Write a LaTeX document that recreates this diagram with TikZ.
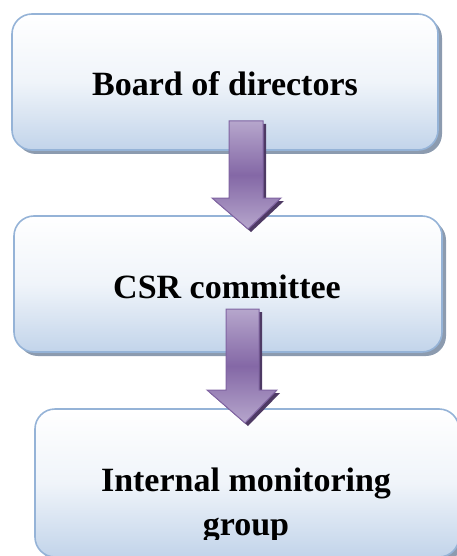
\documentclass[tikz,border=0pt]{standalone}
\usepackage{fontspec}
\setmainfont{Liberation Serif}
\usetikzlibrary{shadows}
\definecolor{boxline}{RGB}{149,179,215}
\definecolor{boxbot}{RGB}{194,212,234}
\definecolor{boxshadow}{RGB}{140,155,175}
\definecolor{arrline}{RGB}{128,100,162}
\definecolor{arrlight}{RGB}{182,166,204}
\definecolor{arrdark}{RGB}{132,104,166}
\definecolor{arrshadow}{RGB}{78,58,100}
\begin{document}
\begin{tikzpicture}[x=1pt,y=-1pt,
  box/.style={draw=boxline, line width=1.6pt, rounded corners=20pt,
    top color=white, bottom color=boxbot, middle color=boxbot!25!white,
    drop shadow={shadow xshift=4pt, shadow yshift=-4pt, fill=boxshadow, opacity=1},
    inner sep=0pt},
  lab/.style={font=\bfseries\fontsize{34}{44}\selectfont, align=center, inner sep=0pt},
  arrowbody/.style={draw=arrline, line width=1pt, top color=arrlight, bottom color=arrlight, middle color=arrdark},
  arrowshade/.style={fill=arrshadow}]
\useasboundingbox (0,0) rectangle (457,556);
\clip (0,0) rectangle (457,556);
% boxes
\node[box, minimum width=426pt, minimum height=136pt] (b1) at (225,82) {};
\node[box, minimum width=428pt, minimum height=136pt] (b2) at (228,284) {};
\node[box, minimum width=424pt, minimum height=148pt] (b3) at (247,483) {};
% labels
\node[lab, anchor=base] (t1) at (225,96) {Board of directors};
\node[lab, anchor=base] (t2) at (227,298) {CSR committee};
\begin{scope}
\clip (0,0) rectangle (457,539);
\node[lab, anchor=base] (t3) at (246,491) {Internal monitoring};
\node[lab, anchor=base] (t4) at (246,535) {group};
\end{scope}
% arrow 1
\fill[arrowshade] (232,124) -- (266,124) -- (266,201) -- (284,201) -- (251,232) -- (215,201) -- (232,201) -- cycle;
\path[arrowbody] (229,121) -- (263,121) -- (263,198) -- (281,198) -- (248,229) -- (212,198) -- (229,198) -- cycle;
% arrow 2
\fill[arrowshade] (229,312) -- (262,312) -- (262,393) -- (280,393) -- (248,426) -- (210,393) -- (229,393) -- cycle;
\path[arrowbody] (226,309) -- (259,309) -- (259,390) -- (277,390) -- (245,423) -- (207,390) -- (226,390) -- cycle;
\end{tikzpicture}
\end{document}
